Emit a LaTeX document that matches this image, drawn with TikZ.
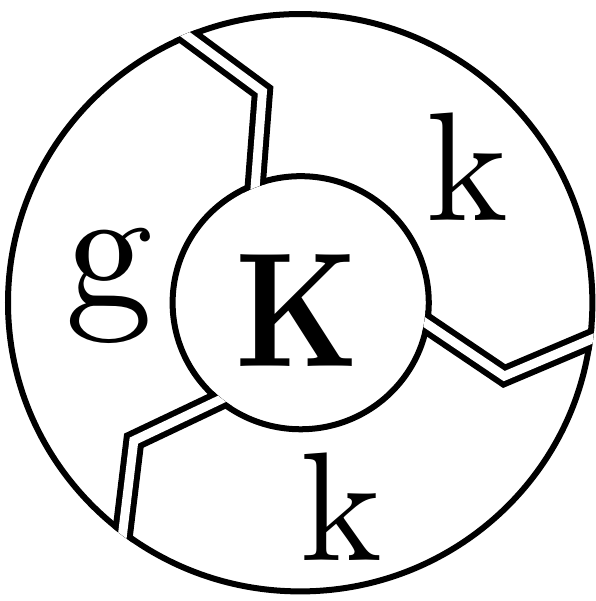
\documentclass[tikz,border=0pt]{standalone}
\usepackage{fontspec}
\newfontfamily\tenrm{lmroman10-regular.otf}
\newfontfamily\tenbf{lmroman10-bold.otf}
\usetikzlibrary{calc}
\tikzset{
  ring/.style={line width=6pt},
  slotouter/.style={line width=21pt, line join=miter, line cap=butt},
  slotinner/.style={white, line width=9pt, line join=miter, line cap=butt},
  letter/.style={anchor=base, inner sep=0pt, font=\tenrm\fontsize{155}{155}\selectfont},
}
\begin{document}
\begin{tikzpicture}[x=1pt,y=0.988pt]
\useasboundingbox (-300,-301.7) rectangle (295,306.2);
% rings
\draw[ring] (0,0) circle[radius=292];
\draw[ring] (0.5,0) circle[radius=128];
% divider geometry
\foreach \n/\t in {1/100,2/220,3/340}{
  \coordinate (b\n) at (\t:217);
  \coordinate (i\n) at (\t+10.5:128);
  \coordinate (o\n) at (\t+12.5:291);
  \coordinate (ie\n) at ($(b\n)!1.3!(i\n)$);
  \coordinate (oe\n) at ($(b\n)!1.2!(o\n)$);
}
\begin{scope}[even odd rule]
  \clip (0,0) circle[radius=295] (0.5,0) circle[radius=125];
  \foreach \n in {1,2,3}{
    \draw[slotouter] (oe\n) -- (b\n) -- (ie\n);
    \draw[slotinner] (oe\n) -- (b\n) -- (ie\n);
  }
\end{scope}
% letters
\node[letter, font=\tenbf\fontsize{163}{163}\selectfont] (K) at (-3,-64.3) {\scalebox{0.84}[1]{K}};
\node[letter] (k1) at (167.4,83.5) {k};
\node[letter] (k2) at (41.5,-260.4) {k};
\node[letter, font=\tenrm\fontsize{175}{175}\selectfont] (g) at (-191,-5.1) {g};
\end{tikzpicture}
\end{document}
